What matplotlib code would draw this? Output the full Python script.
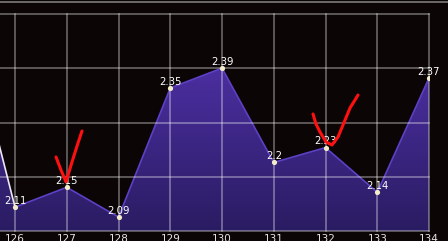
import matplotlib

matplotlib.use("Agg")
import matplotlib.pyplot as plt
import numpy as np
from matplotlib.colors import LinearSegmentedColormap
from matplotlib.lines import Line2D

# data (125 sits just off the left edge)
rounds = [125, 126, 127, 128, 129, 130, 131, 132, 133, 134]
values = [2.52, 2.11, 2.15, 2.09, 2.35, 2.39, 2.20, 2.23, 2.14, 2.37]
labels = ["", "2.11", "2.15", "2.09", "2.35", "2.39", "2.2", "2.23", "2.14", "2.37"]

BG = "#0b0506"
Y_LO, Y_HI = 2.062, 2.499

fig = plt.figure(figsize=(4.48, 2.41), dpi=100, facecolor=BG)
ax = fig.add_axes([0, 10 / 241, 429 / 448, 217 / 241])
ax.set_facecolor(BG)
ax.set_xlim(125.71, 134)
ax.set_ylim(Y_LO, Y_HI)
for s in ax.spines.values():
    s.set_visible(False)

# gradient-filled area
x = np.array(rounds, dtype=float)
y = np.array(values)
poly = ax.fill_between(x, y, Y_LO, color="none", zorder=1)
cmap = LinearSegmentedColormap.from_list("area", ["#2a1c62", "#4c2fa2"])
grad = ax.imshow(np.linspace(0, 1, 256).reshape(-1, 1), cmap=cmap, aspect="auto",
                 origin="lower", extent=(125.71, 134, Y_LO, 2.40), zorder=1)
grad.set_clip_path(poly.get_paths()[0], transform=ax.transData)

ax.plot(x[1:], y[1:], color="#5d40c4", lw=1.2, zorder=2)
ax.plot(x[:2], y[:2], color="#ece6f5", lw=1.2, zorder=2)

# grid drawn over the area
yt = np.linspace(Y_LO, Y_HI, 5)
for v in yt:
    ax.axhline(v, color="white", alpha=0.42, lw=1.1, zorder=3, clip_on=False)
for r in rounds[1:]:
    ax.axvline(r, color="white", alpha=0.42, lw=1.1, zorder=3, clip_on=False)

ax.scatter(x[1:], y[1:], s=14, color="#f3ecc8", zorder=4, linewidths=0)
for r, v, t in zip(rounds, values, labels):
    if t:
        ax.annotate(t, (r, v), xytext=(0, 2.4), textcoords="offset points",
                    ha="center", va="baseline", color="white", fontsize=7.3,
                    zorder=5)

ax.set_xticks(rounds[1:])
ax.set_xticklabels([str(r) for r in rounds[1:]], color="#e8e4e4", fontsize=7.5)
ax.set_yticks([])
ax.tick_params(axis="x", length=0, pad=2.5)

# thin rule across the top of the panel
fig.add_artist(Line2D([0, 1], [1 - 1.7 / 241] * 2, color="#8a8585", lw=1.1))

# red hand-drawn check marks
def px(pts):
    return [p[0] / 448 for p in pts], [1 - p[1] / 241 for p in pts]

for stroke in ([(56, 157), (61, 170), (66, 182), (72, 162), (78, 143), (82, 131)],
               [(313, 114), (316, 124), (320, 132), (326, 142), (332, 145),
                (338, 137), (343, 125), (350, 108), (355, 100), (358, 95)]):
    xs, ys = px(stroke)
    fig.add_artist(Line2D(xs, ys, color="#ff1010", lw=2.2, solid_capstyle="round",
                          solid_joinstyle="round"))

fig.savefig("out.png", dpi=100, facecolor=BG)
